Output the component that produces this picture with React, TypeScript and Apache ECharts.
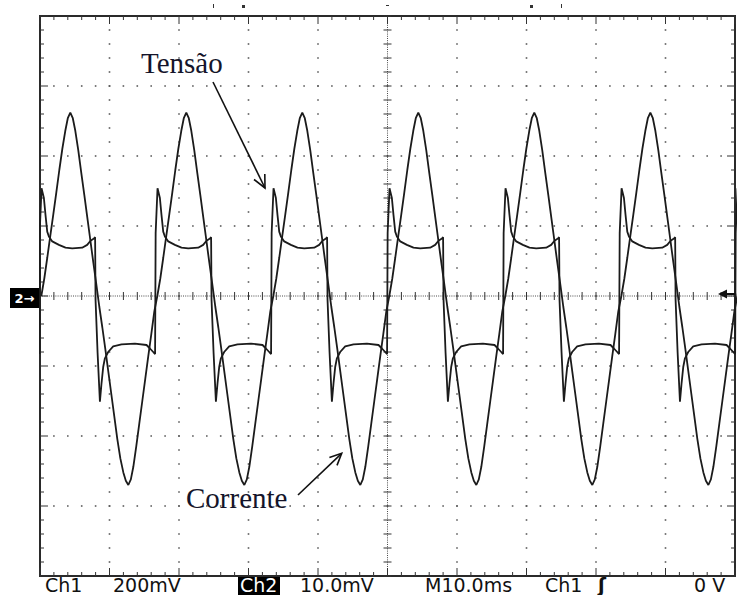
import React, { useEffect, useRef } from "react";
import * as echarts from "echarts";

const W = 742;
const H = 595;

// Time of each rising edge of the voltage trace (ms) (10 ms/div)
const cycleStartMs = [-0.07, 16.62, 33.31, 50.0, 66.69, 83.39, 100.08];

// One cycle of the voltage trace ("Tensão"): offset from rising edge (ms) and level (div)
const voltageOffsetMs = [0, 0.02, 0.29, 0.63, 0.86, 1.11, 1.35, 1.83, 2.79, 3.74, 4.71, 6.14, 6.86, 7.34, 7.83, 8.0, 8.06, 8.35, 8.69, 8.92, 9.17, 9.41, 9.88, 10.6, 11.8, 13.73, 15.4, 15.89, 16.36, 16.63];
const voltageDiv = [-0.83, 0.9, 1.54, 1.4, 1.16, 0.92, 0.85, 0.78, 0.73, 0.69, 0.68, 0.69, 0.73, 0.79, 0.82, 0.84, -0.05, -0.8, -1.51, -1.25, -1.01, -0.89, -0.8, -0.72, -0.69, -0.68, -0.7, -0.75, -0.8, -0.83];

// One cycle of the current trace ("Corrente"): offset from the same edge (ms) and level (div)
const currentOffsetMs = [0.26, 0.69, 1.12, 1.55, 1.99, 2.42, 2.85, 3.28, 3.71, 4.07, 4.43, 4.79, 5.15, 5.58, 6.01, 6.45, 6.88, 7.31, 7.74, 8.17, 8.6, 9.04, 9.47, 9.9, 10.33, 10.76, 11.19, 11.63, 12.06, 12.42, 12.78, 13.14, 13.5, 13.93, 14.36, 14.79, 15.22, 15.65, 16.09, 16.52];
const currentDiv = [0.0, 0.25, 0.55, 0.86, 1.17, 1.48, 1.8, 2.1, 2.36, 2.54, 2.62, 2.54, 2.36, 2.08, 1.76, 1.44, 1.12, 0.8, 0.48, 0.17, -0.15, -0.45, -0.76, -1.08, -1.4, -1.72, -2.04, -2.32, -2.52, -2.64, -2.7, -2.62, -2.44, -2.14, -1.82, -1.5, -1.18, -0.86, -0.54, -0.22];

// Screen readouts
const readouts = [
  { text: "Ch1", x: 45 },
  { text: "200mV", x: 113 },
  { text: "10.0mV", x: 300 },
  { text: "M10.0ms", x: 425 },
  { text: "Ch1", x: 545 },
  { text: "0 V", x: 694 },
];

function buildTrace(offsets: number[], values: number[]) {
  const out: number[][] = [];
  cycleStartMs.forEach((t0) => {
    offsets.forEach((o, i) => out.push([+(t0 + o).toFixed(3), values[i]]));
  });
  return out;
}

export default function App() {
  const ref = useRef<HTMLDivElement>(null);

  useEffect(() => {
    const chart = echarts.init(ref.current!, null, { renderer: "svg", width: W, height: H });
    const traceColor = "#1b1b1b";
    const readFont = '19px "DejaVu Sans"';

    const option: any = {
      animation: false,
      backgroundColor: "#ffffff",
      grid: {
        left: 40,
        top: 16,
        right: 7,
        bottom: 19,
        show: true,
        borderColor: "#2a2a2a",
        borderWidth: 2,
        backgroundColor: "#ffffff",
      },
      xAxis: {
        type: "value",
        min: 0,
        max: 100,
        interval: 10,
        axisLine: { show: false, onZero: false },
        axisTick: { show: false },
        axisLabel: { show: false },
        splitLine: { show: false },
      },
      yAxis: {
        type: "value",
        min: -4,
        max: 4,
        interval: 1,
        axisLine: { show: false, onZero: false },
        axisTick: { show: false },
        axisLabel: { show: false },
        splitLine: { show: false },
      },
      series: [
        {
          type: "custom",
          silent: true,
          z: 1,
          data: [[0, 0]],
          renderItem: (_params: any, api: any) => {
            const c = (x: number, y: number) => api.coord([x, y]);
            const [xL, yB] = c(0, -4);
            const [xR, yT] = c(100, 4);
            const [xC, yC] = c(50, 0);
            const children: any[] = [];
            const tickStyle = { stroke: "#333", lineWidth: 1 };
            const dotStyle = { fill: "#5a5a5a" };
            const ln = (x1: number, y1: number, x2: number, y2: number, style: any) =>
              children.push({ type: "line", shape: { x1, y1, x2, y2 }, style });
            const dot = (x: number, y: number) =>
              children.push({ type: "rect", shape: { x: x - 0.8, y: y - 0.8, width: 1.6, height: 1.6 }, style: dotStyle });
            // dotted graticule: dots every 1/5 division along each division line
            for (let k = 1; k < 10; k++) {
              if (k === 5) continue;
              for (let j = 1; j < 40; j++) {
                const [px, py] = c(k * 10, -4 + j * 0.2);
                dot(px, py);
              }
            }
            for (let k = 1; k < 8; k++) {
              if (k === 4) continue;
              for (let i = 1; i < 50; i++) {
                const [px, py] = c(i * 2, -4 + k);
                dot(px, py);
              }
            }
            // centre cross-hair
            ln(xL, yC, xR, yC, { stroke: "#4a4a4a", lineWidth: 1, lineDash: [1, 1.2] });
            ln(xC, yT, xC, yB, { stroke: "#4a4a4a", lineWidth: 1, lineDash: [1, 1.2] });
            for (let i = 0; i <= 50; i++) {
              const [px] = c(i * 2, 0);
              const major = i % 5 === 0;
              ln(px, yC - 4, px, yC + 4, tickStyle);
              ln(px, yT, px, yT + (major ? 8 : 4), tickStyle);
              ln(px, yB, px, yB - (major ? 8 : 4), tickStyle);
            }
            for (let j = 0; j <= 40; j++) {
              const [, py] = c(50, -4 + j * 0.2);
              const major = j % 5 === 0;
              ln(xC - 4, py, xC + 4, py, tickStyle);
              ln(xL, py, xL + (major ? 8 : 4), py, tickStyle);
              ln(xR, py, xR - (major ? 8 : 4), py, tickStyle);
            }
            return { type: "group", children };
          },
        },
        {
          name: "Corrente",
          type: "line",
          data: buildTrace(currentOffsetMs, currentDiv),
          showSymbol: false,
          clip: true,
          z: 3,
          lineStyle: { color: traceColor, width: 1.8 },
        },
        {
          name: "Tensão",
          type: "line",
          data: buildTrace(voltageOffsetMs, voltageDiv),
          showSymbol: false,
          clip: true,
          z: 4,
          lineStyle: { color: traceColor, width: 1.8 },
        },
      ],
      graphic: [
        // annotations
        {
          type: "text",
          z: 100,
          style: { text: "Tensão", x: 141, y: 63, verticalAlign: "middle", font: '29px "Liberation Serif"', fill: "#14142a" },
        },
        { type: "line", z: 100, shape: { x1: 213, y1: 82, x2: 265, y2: 188 }, style: { stroke: "#111", lineWidth: 1.6 } },
        { type: "polyline", z: 100, shape: { points: [[254, 179.5], [265, 188], [264.8, 174]] }, style: { stroke: "#111", lineWidth: 1.6, fill: "none" } },
        {
          type: "text",
          z: 100,
          style: { text: "Corrente", x: 186, y: 498, verticalAlign: "middle", font: '29px "Liberation Serif"', fill: "#14142a" },
        },
        { type: "line", z: 100, shape: { x1: 298, y1: 495, x2: 341.7, y2: 453.3 }, style: { stroke: "#111", lineWidth: 1.6 } },
        { type: "polyline", z: 100, shape: { points: [[329.4, 457.5], [341.7, 453.3], [337, 465.4]] }, style: { stroke: "#111", lineWidth: 1.6, fill: "none" } },
        // ground marker (left) and trigger level marker (right)
        { type: "rect", z: 100, shape: { x: 10, y: 288, width: 29, height: 20 }, style: { fill: "#000" } },
        {
          type: "text",
          z: 101,
          style: { text: "2→", x: 24.5, y: 298, align: "center", verticalAlign: "middle", font: 'bold 13px "DejaVu Sans"', fill: "#fff" },
        },
        { type: "polygon", z: 100, shape: { points: [[718, 294], [727, 289.5], [727, 298.5]] }, style: { fill: "#111" } },
        { type: "line", z: 100, shape: { x1: 726, y1: 294, x2: 735, y2: 294 }, style: { stroke: "#111", lineWidth: 2 } },
        // small marks above the graticule
        { type: "rect", z: 100, shape: { x: 213, y: 4, width: 1, height: 4 }, style: { fill: "#333" } },
        { type: "rect", z: 100, shape: { x: 242, y: 5, width: 3, height: 3 }, style: { fill: "#333" } },
        { type: "rect", z: 100, shape: { x: 386, y: 5, width: 3, height: 1 }, style: { fill: "#333" } },
        { type: "rect", z: 100, shape: { x: 530, y: 5, width: 3, height: 3 }, style: { fill: "#333" } },
        { type: "rect", z: 100, shape: { x: 561, y: 4, width: 1, height: 4 }, style: { fill: "#333" } },
        // readouts
        { type: "rect", z: 100, shape: { x: 238, y: 577, width: 42, height: 18 }, style: { fill: "#000" } },
        {
          type: "text",
          z: 101,
          style: { text: "Ch2", x: 240, y: 585, verticalAlign: "middle", font: readFont, fill: "#fff" },
        },
        ...readouts.map((r) => ({
          type: "text",
          z: 100,
          style: { text: r.text, x: r.x, y: 585, verticalAlign: "middle", font: readFont, fill: "#111" },
        })),
        {
          type: "text",
          z: 100,
          style: { text: "ʃ", x: 598, y: 585, verticalAlign: "middle", font: 'bold 19px "DejaVu Sans"', fill: "#111" },
        },
      ],
    };

    chart.setOption(option);
    return () => chart.dispose();
  }, []);

  return (
    <div
      ref={ref}
      style={{ position: "fixed", left: 0, top: 0, width: W, height: H, background: "#fff" }}
    />
  );
}
